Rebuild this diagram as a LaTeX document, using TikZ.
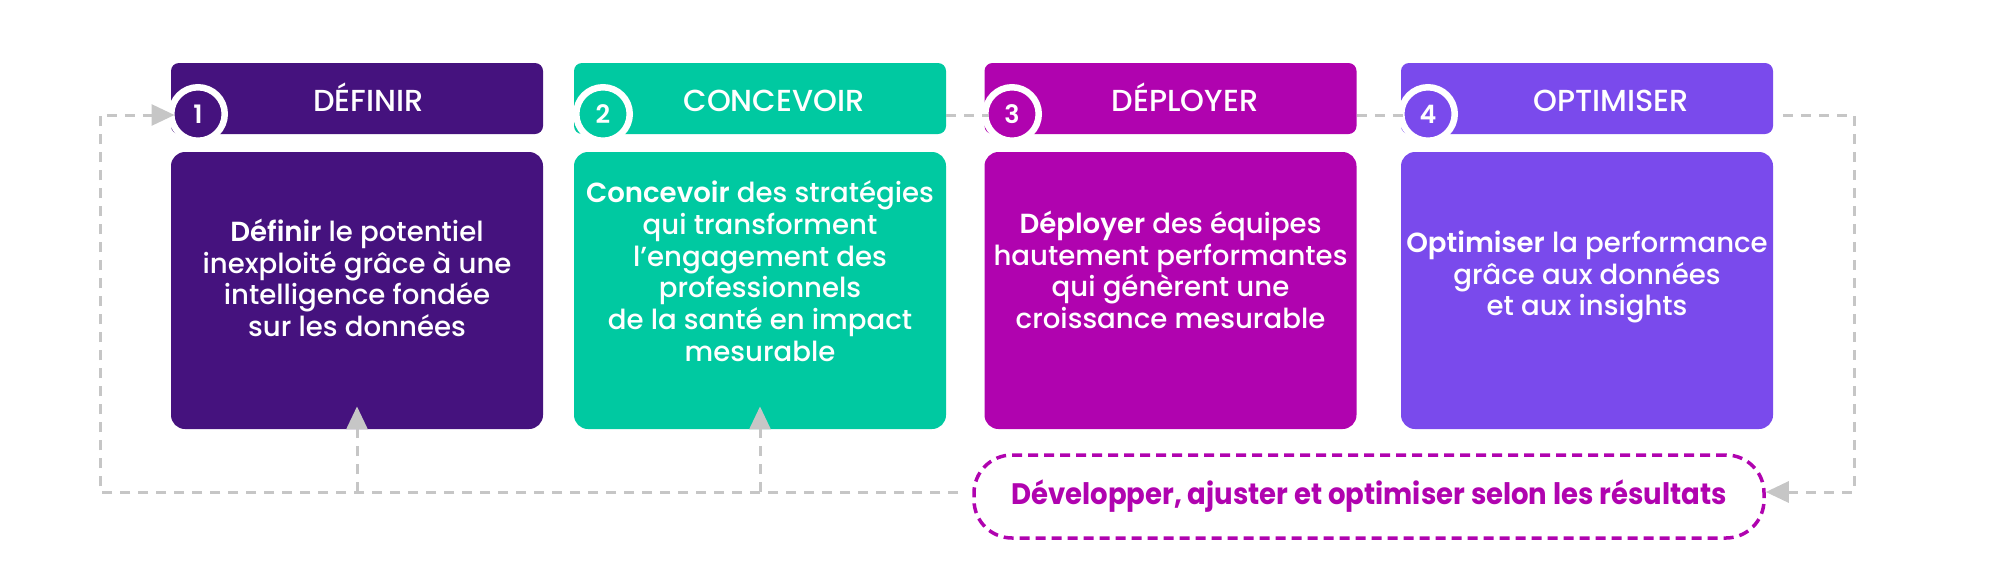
\documentclass[tikz,border=0pt]{standalone}
\usepackage{fontspec}
\setmainfont{Poppins}
\newfontfamily\medfont{Poppins Medium}[BoldFont={Poppins SemiBold}]
\newfontfamily\pillfont{Poppins}[FakeStretch=0.93]
\usetikzlibrary{arrows.meta}
\definecolor{defcol}{HTML}{45127E}
\definecolor{concol}{HTML}{00C9A1}
\definecolor{depcol}{HTML}{B003AF}
\definecolor{optcol}{HTML}{7A4AEC}
\definecolor{loopgray}{HTML}{C6C6C6}
\newcommand{\loopcolor}{loopgray}
\newcommand{\loopwidth}{1.5pt}

\begin{document}
\begin{tikzpicture}[x=0.5pt,y=-0.5pt,
  headbox/.style={rectangle,rounded corners=4pt,minimum width=186pt,minimum height=35.5pt,inner sep=0pt},
  bodybox/.style={rectangle,rounded corners=7pt,minimum width=186pt,minimum height=138.5pt,inner sep=0pt},
  numdot/.style={circle,draw=white,line width=3.25pt,minimum size=26.75pt,inner sep=0pt,text=white,font=\medfont\bfseries\fontsize{12.7}{14}\selectfont},
  headtext/.style={text=white,anchor=base,inner sep=0pt,font=\medfont\fontsize{15.2}{17}\selectfont},
  bodytext/.style={text=white,align=center,inner sep=0pt,font=\medfont\fontsize{13.8}{15.85}\selectfont},
  pill/.style={rectangle,draw=depcol,text=depcol,line width=1.75pt,dash pattern=on 5pt off 3pt,rounded corners=19pt,minimum width=395pt,minimum height=41.5pt,font=\pillfont\bfseries\fontsize{14.8}{17}\selectfont},
  loopline/.style={draw=\loopcolor,line width=\loopwidth,dash pattern=on 5pt off 4pt},
  looptip/.style={-{Triangle[length=11.5pt,width=10.5pt]}}]
\useasboundingbox (0,0) rectangle (2000,584);
%1
\node[headbox,fill=defcol] (h1) at (357,98.5) {};
\node[bodybox,fill=defcol] (b1) at (357,290.5) {};
\node[numdot,fill=defcol] (n1) at (198,114) {1};
\node[headtext] (l1) at (368.5,111) {DÉFINIR};
\node[bodytext] (d1) at (357,278) {\textbf{Définir} le potentiel\\inexploité grâce à une\\intelligence fondée\\sur les données};
%2
\node[headbox,fill=concol] (h2) at (760,98.5) {};
\node[bodybox,fill=concol] (b2) at (760,290.5) {};
\node[numdot,fill=concol] (n2) at (603,114) {2};
\node[headtext] (l2) at (774,111) {CONCEVOIR};
\node[bodytext] (d2) at (760,271) {\textbf{Concevoir} des stratégies\\qui transforment\\l’engagement des\\professionnels\\de la santé en impact\\mesurable};
%3
\node[headbox,fill=depcol] (h3) at (1170.5,98.5) {};
\node[bodybox,fill=depcol] (b3) at (1170.5,290.5) {};
\node[numdot,fill=depcol] (n3) at (1012,114) {3};
\node[headtext] (l3) at (1185,111) {DÉPLOYER};
\node[bodytext] (d3) at (1170.5,270) {\textbf{Déployer} des équipes\\hautement performantes\\qui génèrent une\\croissance mesurable};
%4
\node[headbox,fill=optcol] (h4) at (1587,98.5) {};
\node[bodybox,fill=optcol] (b4) at (1587,290.5) {};
\node[numdot,fill=optcol] (n4) at (1428,114) {4};
\node[headtext] (l4) at (1611,111) {OPTIMISER};
\node[bodytext] (d4) at (1587,277) {\textbf{Optimiser} la performance\\grâce aux données\\et aux insights};
%boucle
\node[pill] (p) at (1369,496.5) {Développer, ajuster et optimiser selon les résultats};
\coordinate (c1) at (100,492);
\coordinate (c2) at (100,115);
\coordinate (c3) at (1854,115);
\coordinate (c4) at (1854,492);
\draw[loopline,looptip,shorten <=7pt,shorten >=11.75pt] (p.west |- c1) -- (c1) -- (c2) -- (n1.center |- c2);
\draw[loopline,looptip,shorten >=-11.5pt] (b1.south |- c1) -- (b1.south);
\draw[loopline,looptip,shorten >=-11.5pt] (b2.south |- c1) -- (b2.south);
\draw[loopline,shorten >=11.75pt] (h2.east |- c2) -- (n3.center |- c2);
\draw[loopline,shorten >=11.75pt] (h3.east |- c2) -- (n4.center |- c2);
\draw[loopline,looptip,shorten <=5pt] (h4.east |- c3) -- (c3) -- (c4) -- (p.east |- c4);
\end{tikzpicture}
\end{document}
